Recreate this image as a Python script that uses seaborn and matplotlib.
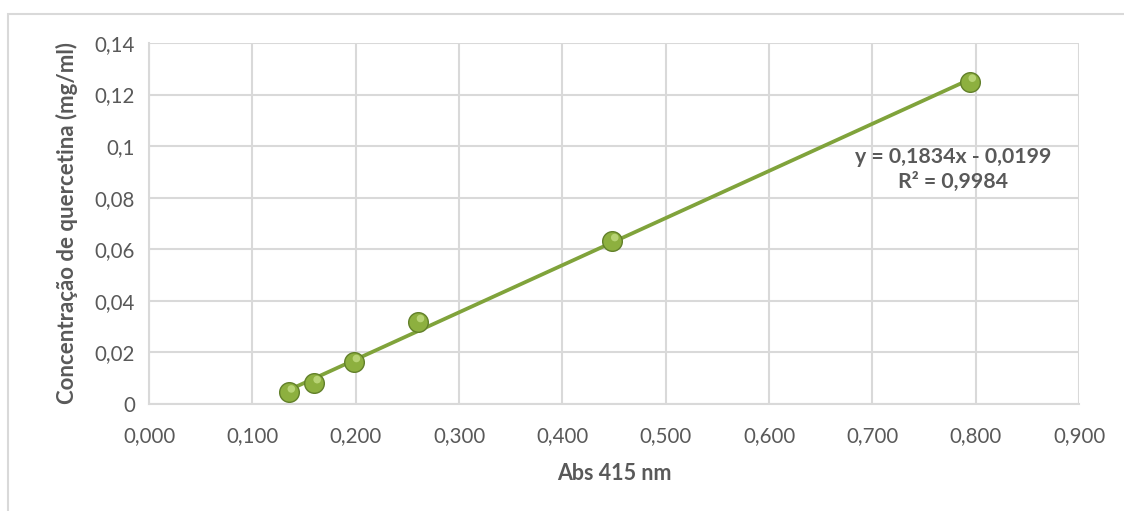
import numpy as np
import pandas as pd
import matplotlib
matplotlib.use("Agg")
import matplotlib.pyplot as plt
from matplotlib.ticker import FuncFormatter, MultipleLocator
from matplotlib.patches import Rectangle
import seaborn as sns

# data
absorbance = [0.135, 0.160, 0.198, 0.260, 0.448, 0.794]
concentration = [0.0045, 0.0081, 0.0163, 0.0318, 0.0632, 0.1250]
equation_text = "y = 0,1834x - 0,0199"
r2_text = "R² = 0,9984"

df = pd.DataFrame({"abs": absorbance, "conc": concentration})

sns.set_theme(style="white")
plt.rcParams["font.family"] = ["Lato", "DejaVu Sans"]

text_color = "#595959"
grid_color = "#d9d9d9"
green = "#8db03f"

fig = plt.figure(figsize=(11.24, 5.11), dpi=100)
ax = fig.add_axes([0.1326, 0.2094, 0.8274, 0.7065])

# outer chart frame (cut by the image edge on right and bottom)
fig.patches.append(Rectangle((8 / 1124, -0.2), 1.2, 1.2 - 14 / 511,
                             transform=fig.transFigure, fill=False,
                             edgecolor=grid_color, linewidth=1.5, zorder=0))

# trendline
sns.regplot(data=df, x="abs", y="conc", ax=ax, scatter=False, ci=None,
            truncate=True, line_kws={"color": "#80a33b", "linewidth": 2.7, "zorder": 3})

# markers
sns.scatterplot(data=df, x="abs", y="conc", ax=ax, s=200, color=green,
                edgecolor="#62802a", linewidth=1.0, zorder=4)
# highlight to mimic the shaded spheres
hl = matplotlib.transforms.offset_copy(ax.transData, fig=fig, x=2.0, y=2.5, units="points")
ax.scatter(df["abs"], df["conc"], s=30, color="#bcd77a", edgecolor="none",
           transform=hl, zorder=5, alpha=0.9)

ax.set_xlim(0, 0.9)
ax.set_ylim(0, 0.14)
ax.xaxis.set_major_locator(MultipleLocator(0.1))
ax.yaxis.set_major_locator(MultipleLocator(0.02))
ax.xaxis.set_major_formatter(FuncFormatter(lambda v, p: ("%.3f" % v).replace(".", ",")))
ax.yaxis.set_major_formatter(FuncFormatter(lambda v, p: ("%g" % round(v, 2)).replace(".", ",")))

ax.grid(True, color=grid_color, linewidth=1.5)
ax.set_axisbelow(True)
for side in ["top", "right"]:
    ax.spines[side].set_visible(False)
for side in ["left", "bottom"]:
    ax.spines[side].set_color(grid_color)
    ax.spines[side].set_linewidth(1.5)

ax.tick_params(axis="both", length=0, labelsize=14.8, labelcolor=text_color)
ax.tick_params(axis="x", pad=16)
ax.tick_params(axis="y", pad=10)

ax.set_xlabel("Abs 415 nm", fontsize=15.5, fontweight="bold", color=text_color, labelpad=12)
ax.set_ylabel("Concentração de quercetina (mg/ml)", fontsize=16, fontweight="bold",
              color=text_color, labelpad=12)

ax.text(0.778, 0.0908, equation_text + "\n" + r2_text, ha="center", va="center",
        fontsize=15.3, fontweight="bold", color=text_color, linespacing=1.3)

fig.savefig("out.png", dpi=100)
